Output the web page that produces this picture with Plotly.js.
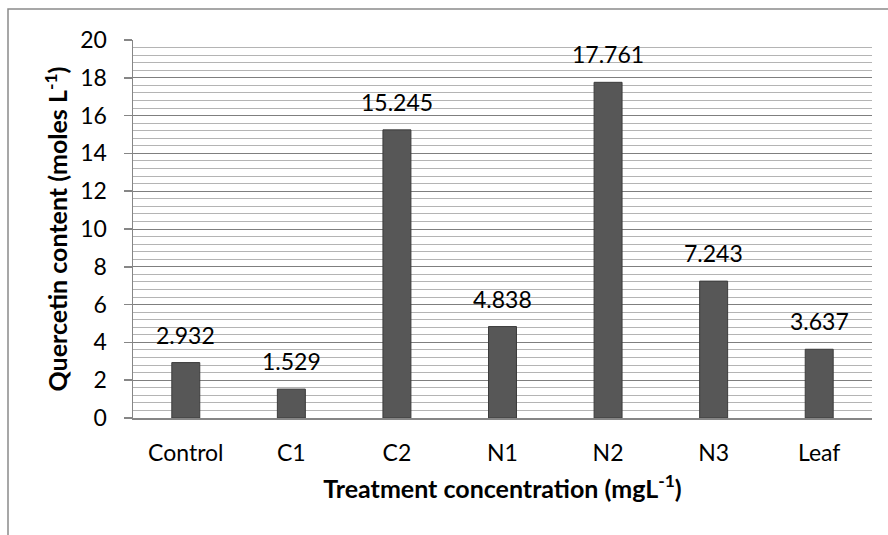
<!DOCTYPE html>
<html>
<head>
<meta charset="utf-8">
<script src="https://cdn.plot.ly/plotly-3.0.1.min.js"></script>
<style>html,body{margin:0;padding:0;background:#fff;}#chart{width:888px;height:535px;}</style>
</head>
<body>
<div id="chart"></div>
<script>
const categories = ["Control", "C1", "C2", "N1", "N2", "N3", "Leaf"];
const values = [2.932, 1.529, 15.245, 4.838, 17.761, 7.243, 3.637];
const valueLabels = ["2.932", "1.529", "15.245", "4.838", "17.761", "7.243", "3.637"];
const yTickVals = [0, 2, 4, 6, 8, 10, 12, 14, 16, 18, 20];
const yMinorStep = 0.4;

// minor gridline positions between the major ticks (excluding the majors)
const yMinorVals = [];
for (let i = 1; i < 50; i++) {
  if (i % 5 !== 0) yMinorVals.push(Math.round(i * yMinorStep * 10) / 10);
}

const FONT = "Lato, 'Open Sans', sans-serif";

const trace = {
  type: "bar",
  x: categories,
  y: values,
  width: 0.265,
  marker: { color: "#575757", line: { color: "#3c3c3c", width: 1 } },
  hoverinfo: "skip"
};

const annotations = categories.map((c, i) => ({
  x: c, y: values[i], xref: "x", yref: "y",
  text: valueLabels[i], showarrow: false,
  yanchor: "middle", yshift: 28,
  font: { family: FONT, size: 23, color: "#000" }
}));

const layout = {
  width: 888, height: 535,
  margin: { l: 133, r: 16, t: 40, b: 117 },
  paper_bgcolor: "#fff", plot_bgcolor: "#fff",
  showlegend: false,
  font: { family: FONT, size: 23, color: "#000" },
  xaxis: {
    type: "category",
    showline: true, linecolor: "#868686", linewidth: 1.5,
    ticks: "", showgrid: false,
    ticklabelstandoff: 14,
    tickfont: { family: FONT, size: 23, color: "#000" },
    title: { text: "<b>Treatment concentration (mgL<sup>-1</sup>)</b>", font: { family: FONT, size: 25, color: "#000" }, standoff: 15 }
  },
  yaxis: {
    range: [0, 20],
    tickvals: yTickVals,
    showline: true, linecolor: "#868686", linewidth: 1.5,
    ticks: "outside", ticklen: 8, tickcolor: "#868686", tickwidth: 1.5,
    showgrid: true, gridcolor: "#7f7f7f", gridwidth: 1,
    zeroline: false,
    minor: { tickvals: yMinorVals, showgrid: true, gridcolor: "#b4b4b4", gridwidth: 1, ticks: "" },
    ticklabelstandoff: 12,
    tickfont: { family: FONT, size: 23, color: "#000" },
    title: { text: "<b>Quercetin content (moles L<sup>-1</sup>)</b>", font: { family: FONT, size: 25, color: "#000" }, standoff: 5 }
  },
  annotations: annotations,
  shapes: [{
    type: "rect", xref: "paper", yref: "paper",
    x0: (8 - 133) / 739, x1: (900 - 133) / 739,
    y0: (418 - 560) / 378, y1: (418 - 9) / 378,
    line: { color: "#8a8a8a", width: 1.5 }, fillcolor: "rgba(0,0,0,0)", layer: "below"
  }]
};

Plotly.newPlot("chart", [trace], layout, { displayModeBar: false, staticPlot: true });
</script>
</body>
</html>
